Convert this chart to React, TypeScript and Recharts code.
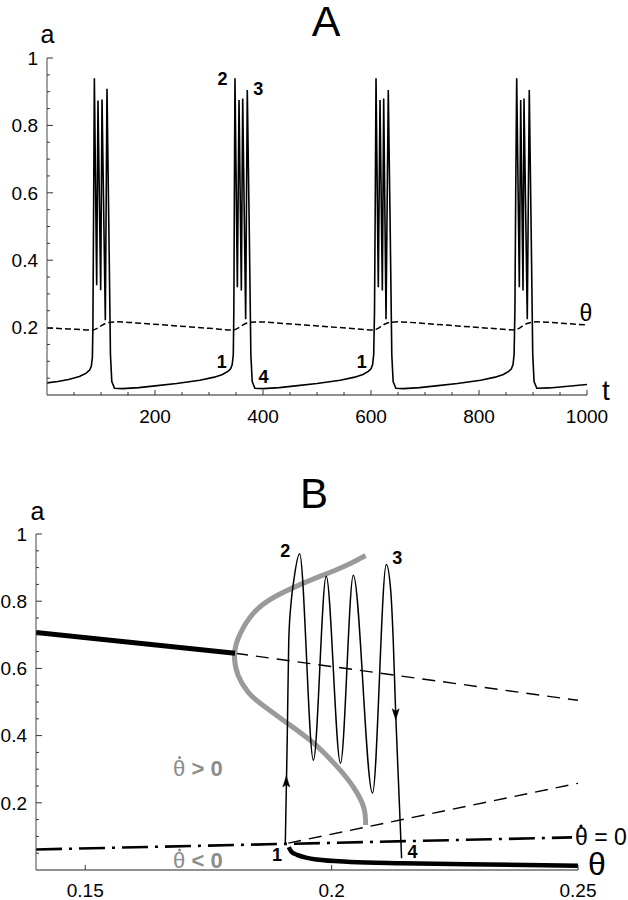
import React from 'react';
import { ComposedChart, Line, XAxis, YAxis, ReferenceDot } from 'recharts';

const FONT = '"Liberation Sans", Arial, Helvetica, sans-serif';

// ---- panel A: a(t) and threshold theta(t) ----
const traceT = [
  0, 20, 40, 60, 72, 79, 82, 84, 85, 86.5,
  87.7, 92.0, 94.4, 99.4, 101.9, 108.0, 111.1, 114.5, 117.5, 120, 125,
  140, 170, 200, 240, 283, 310, 325, 335, 340, 343, 345, 346, 347,
  348.1, 352.5, 355.6, 359.9, 362.4, 367.9, 370.9, 374.5, 377.5, 380, 385,
  400, 430, 460, 500, 543, 570, 585, 595, 600, 603, 605, 606.5, 608,
  609.3, 613.5, 616.7, 621, 623.5, 627.8, 632, 635.5, 638.5, 641, 646,
  660, 690, 720, 760, 803, 830, 845, 855, 860, 863, 865, 866.5, 868,
  869.8, 874.7, 877.2, 881.5, 883.3, 889.4, 893.1, 896.5, 899.5, 902, 907,
  930, 960, 1000,
];
const traceA = [
  0.036, 0.040, 0.046, 0.055, 0.064, 0.074, 0.085, 0.11, 0.2, 0.6,
  0.94, 0.326, 0.874, 0.311, 0.877, 0.222, 0.909, 0.5, 0.12, 0.04, 0.02,
  0.019, 0.022, 0.027, 0.034, 0.044, 0.053, 0.061, 0.07, 0.078, 0.09, 0.12, 0.25, 0.6,
  0.94, 0.32, 0.875, 0.31, 0.88, 0.225, 0.905, 0.5, 0.12, 0.04, 0.02,
  0.019, 0.022, 0.027, 0.034, 0.044, 0.053, 0.061, 0.07, 0.078, 0.09, 0.12, 0.25, 0.6,
  0.94, 0.32, 0.875, 0.31, 0.88, 0.225, 0.905, 0.5, 0.12, 0.04, 0.02,
  0.019, 0.022, 0.027, 0.034, 0.044, 0.053, 0.061, 0.07, 0.078, 0.09, 0.12, 0.25, 0.6,
  0.94, 0.32, 0.875, 0.31, 0.88, 0.225, 0.905, 0.5, 0.12, 0.04, 0.02,
  0.021, 0.025, 0.031,
];
const thetaT = [
  0, 40, 85, 92, 100, 108, 118, 130, 180, 240, 300,
  345, 352, 360, 368, 378, 390, 440, 500, 560,
  605, 612, 620, 628, 638, 650, 700, 760, 820,
  866, 873, 881, 889, 899, 910, 960, 1000,
];
const thetaA = [
  0.199, 0.196, 0.193, 0.197, 0.205, 0.212, 0.216, 0.217, 0.212, 0.205, 0.198,
  0.193, 0.197, 0.205, 0.212, 0.216, 0.217, 0.212, 0.205, 0.198,
  0.193, 0.197, 0.205, 0.212, 0.216, 0.217, 0.212, 0.205, 0.198,
  0.193, 0.197, 0.205, 0.212, 0.216, 0.217, 0.212, 0.208,
];
const tTicks = [50, 100, 150, 200, 250, 300, 350, 400, 450, 500, 550, 600, 650, 700, 750, 800, 850, 900, 950, 1000];
const tLabels = [200, 400, 600, 800, 1000];
const aTicks = [0.05, 0.1, 0.15, 0.2, 0.25, 0.3, 0.35, 0.4, 0.45, 0.5, 0.55, 0.6, 0.65, 0.7, 0.75, 0.8, 0.85, 0.9, 0.95, 1];
const aLabels = [0.2, 0.4, 0.6, 0.8, 1];
const markA = [
  { t: 325, a: 0.94, text: '2' },
  { t: 391, a: 0.908, text: '3' },
  { t: 323.5, a: 0.099, text: '1' },
  { t: 401, a: 0.054, text: '4' },
  { t: 583, a: 0.099, text: '1' },
];

// ---- panel B: bifurcation diagram in (theta, a) ----
const upperStableTh = [0.14, 0.1804];
const upperStableA = [0.707, 0.645];
const upperUnstTh = [0.1804, 0.25];
const upperUnstA = [0.645, 0.505];
const lowerUnstTh = [0.1912, 0.25];
const lowerUnstA = [0.08, 0.258];
const nullTh = [0.14, 0.2488];
const nullA = [0.061, 0.097];
const lowerStableTh = [0.1913, 0.1918, 0.193, 0.195, 0.197, 0.2038, 0.2143, 0.2275, 0.25];
const lowerStableA = [0.068, 0.055, 0.045, 0.036, 0.031, 0.024, 0.02, 0.017, 0.013];
const orbitTh = [
  0.2069, 0.2038, 0.2004, 0.1971, 0.1937, 0.1882, 0.1841, 0.1815, 0.1803,
  0.181, 0.183, 0.1855, 0.191, 0.1963, 0.2012, 0.2044, 0.2065, 0.2069,
];
const orbitA = [
  0.936, 0.912, 0.89, 0.871, 0.85, 0.811, 0.764, 0.705, 0.645,
  0.58, 0.53, 0.496, 0.437, 0.378, 0.306, 0.247, 0.187, 0.134,
];
const trajTh = [
  0.1906, 0.191, 0.1913, 0.1918, 0.1923, 0.1935, 0.1963, 0.1989, 0.2018,
  0.2044, 0.2083, 0.2111, 0.212, 0.2125, 0.213, 0.2136, 0.2142,
];
const trajA = [
  0.08, 0.4, 0.684, 0.8, 0.86, 0.941, 0.327, 0.874, 0.318,
  0.877, 0.229, 0.909, 0.83, 0.684, 0.465, 0.25, 0.035,
];
const thTicks = [0.15, 0.2, 0.25];
const arrowsB = [
  { th: 0.1908, a: 0.262, dir: 'up' },
  { th: 0.213, a: 0.465, dir: 'down' },
];
const markB = [
  { th: 0.1906, a: 0.951, text: '2' },
  { th: 0.2133, a: 0.931, text: '3' },
  { th: 0.1889, a: 0.045, text: '1' },
  { th: 0.2164, a: 0.054, text: '4' },
];
const signB = [
  { th: 0.1731, a: 0.305, text: ' > 0' },
  { th: 0.1731, a: 0.03, text: ' < 0' },
];

const pairs = (xs: number[], ys: number[], key: string) => xs.map((x, i) => ({ [key]: x, a: ys[i] }));

const YTick = (props: any) => {
  const { x, y, payload, labels } = props;
  const v = payload.value;
  const major = labels.includes(v);
  return (
    <g>
      <line x1={x} x2={x + (major ? 6 : 3)} y1={y} y2={y} stroke="#333" strokeWidth={1} />
      {major && (
        <text x={x - 9} y={y} dy="0.36em" textAnchor="end" fontSize={19} fontFamily={FONT} fill="#000">
          {String(v)}
        </text>
      )}
    </g>
  );
};

const XTick = (props: any) => {
  const { x, y, payload, labels, gap } = props;
  const v = payload.value;
  const major = labels.includes(v);
  return (
    <g>
      <line x1={x} x2={x} y1={y} y2={y - (major ? 5 : 3)} stroke="#333" strokeWidth={1} />
      {major && (
        <text x={x} y={y + gap} dy="0.71em" textAnchor="middle" fontSize={19} fontFamily={FONT} fill="#000">
          {String(v)}
        </text>
      )}
    </g>
  );
};

const numLabel = (text: string) => (p: any) => (
  <text x={p.cx} y={p.cy} dy="0.36em" textAnchor="middle" fontSize={18} fontWeight="bold" fontFamily={FONT} fill="#000">
    {text}
  </text>
);

// theta with a dot above (theta-dot), drawn as text plus a small dot
const signLabel = (rest: string) => (p: any) => {
  const x0 = p.cx - 26;
  const base = p.cy + 8;
  return (
    <g>
      <text x={x0} y={base} fontSize={22} fontFamily={FONT} fill="#8c8c8c">
        θ<tspan fontWeight="bold">{rest}</tspan>
      </text>
      <circle cx={x0 + 6.5} cy={base - 18} r={1.5} fill="#8c8c8c" />
    </g>
  );
};

const arrowHead = (dir: string) => (p: any) => {
  const s = dir === 'up' ? -1 : 1;
  const { cx, cy } = p;
  return (
    <path
      d={`M${cx},${cy + s * 6} L${cx - 3.5},${cy - s * 5} L${cx},${cy - s * 2.5} L${cx + 3.5},${cy - s * 5} Z`}
      fill="#000"
      stroke="#000"
      strokeWidth={0.5}
    />
  );
};

const txt = (x: number, y: number, s: string, size: number, anchor = 'middle') => (
  <text x={x} y={y} fontSize={size} fontFamily={FONT} textAnchor={anchor} fill="#000">
    {s}
  </text>
);

export default function App() {
  const trace = pairs(traceT, traceA, 't');
  const theta = pairs(thetaT, thetaA, 't');

  return (
    <div style={{ position: 'absolute', left: 0, top: 0, width: 628, height: 900, background: '#fff' }}>
      <div style={{ position: 'absolute', left: 0, top: 0 }}>
        <ComposedChart width={628} height={440} margin={{ top: 58, right: 41, left: 0, bottom: 0 }}>
          <XAxis
            dataKey="t"
            type="number"
            domain={[0, 1000]}
            ticks={tTicks}
            interval={0}
            height={45}
            tickSize={0}
            tickMargin={0}
            axisLine={{ stroke: '#222' }}
            tick={(p: any) => <XTick {...p} labels={tLabels} gap={15} />}
            allowDataOverflow
          />
          <YAxis
            type="number"
            domain={[0, 1]}
            ticks={aTicks}
            interval={0}
            width={47}
            tickSize={0}
            tickMargin={0}
            axisLine={{ stroke: '#444' }}
            tick={(p: any) => <YTick {...p} labels={aLabels} />}
            allowDataOverflow
          />
          <Line data={theta} dataKey="a" type="monotone" stroke="#000" strokeWidth={1.5} strokeDasharray="6 3" dot={false} activeDot={false} isAnimationActive={false} />
          <Line data={trace} dataKey="a" type="linear" stroke="#000" strokeWidth={1.6} dot={false} activeDot={false} isAnimationActive={false} />
          {markA.map((m, i) => (
            <ReferenceDot key={i} x={m.t} y={m.a} r={0} shape={numLabel(m.text)} />
          ))}
        </ComposedChart>
      </div>

      <div style={{ position: 'absolute', left: 0, top: 440 }}>
        <ComposedChart width={628} height={460} margin={{ top: 94, right: 50, left: 0, bottom: 0 }}>
          <XAxis
            dataKey="th"
            type="number"
            domain={[0.14, 0.25]}
            ticks={thTicks}
            interval={0}
            height={30}
            tickSize={0}
            tickMargin={0}
            axisLine={{ stroke: '#222' }}
            tick={(p: any) => <XTick {...p} labels={thTicks} gap={14} />}
            allowDataOverflow
          />
          <YAxis
            type="number"
            domain={[0, 1]}
            ticks={aTicks}
            interval={0}
            width={36}
            tickSize={0}
            tickMargin={0}
            axisLine={{ stroke: '#444' }}
            tick={(p: any) => <YTick {...p} labels={aLabels} />}
            allowDataOverflow
          />
          <Line data={pairs(upperUnstTh, upperUnstA, 'th')} dataKey="a" type="linear" stroke="#000" strokeWidth={1.4} strokeDasharray="13 8" dot={false} activeDot={false} isAnimationActive={false} />
          <Line data={pairs(lowerUnstTh, lowerUnstA, 'th')} dataKey="a" type="linear" stroke="#000" strokeWidth={1.4} strokeDasharray="13 8" dot={false} activeDot={false} isAnimationActive={false} />
          <Line data={pairs(nullTh, nullA, 'th')} dataKey="a" type="linear" stroke="#000" strokeWidth={2.6} strokeDasharray="26 7 3 7" dot={false} activeDot={false} isAnimationActive={false} />
          <Line data={pairs(orbitTh, orbitA, 'th')} dataKey="a" type="natural" stroke="#9a9a9a" strokeWidth={5} dot={false} activeDot={false} isAnimationActive={false} />
          <Line data={pairs(trajTh, trajA, 'th')} dataKey="a" type="monotone" stroke="#000" strokeWidth={1.5} dot={false} activeDot={false} isAnimationActive={false} />
          <Line data={pairs(upperStableTh, upperStableA, 'th')} dataKey="a" type="linear" stroke="#000" strokeWidth={5} dot={false} activeDot={false} isAnimationActive={false} />
          <Line data={pairs(lowerStableTh, lowerStableA, 'th')} dataKey="a" type="monotone" stroke="#000" strokeWidth={4.5} dot={false} activeDot={false} isAnimationActive={false} />
          {arrowsB.map((m, i) => (
            <ReferenceDot key={'ar' + i} x={m.th} y={m.a} r={0} shape={arrowHead(m.dir)} />
          ))}
          {markB.map((m, i) => (
            <ReferenceDot key={'mb' + i} x={m.th} y={m.a} r={0} shape={numLabel(m.text)} />
          ))}
          {signB.map((m, i) => (
            <ReferenceDot key={'sb' + i} x={m.th} y={m.a} r={0} shape={signLabel(m.text)} />
          ))}
        </ComposedChart>
      </div>

      <svg width={628} height={900} style={{ position: 'absolute', left: 0, top: 0, pointerEvents: 'none' }}>
        {txt(326, 36, 'A', 43)}
        {txt(47.5, 43, 'a', 25)}
        {txt(586, 321, 'θ', 23)}
        {txt(606, 400, 't', 28)}
        {txt(314, 508, 'B', 42)}
        {txt(37.5, 520, 'a', 25)}
        {txt(575, 845, 'θ = 0', 23, 'start')}
        <circle cx={581} cy={826} r={1.6} fill="#000" />
        {txt(597, 875, 'θ', 32)}
      </svg>
    </div>
  );
}
